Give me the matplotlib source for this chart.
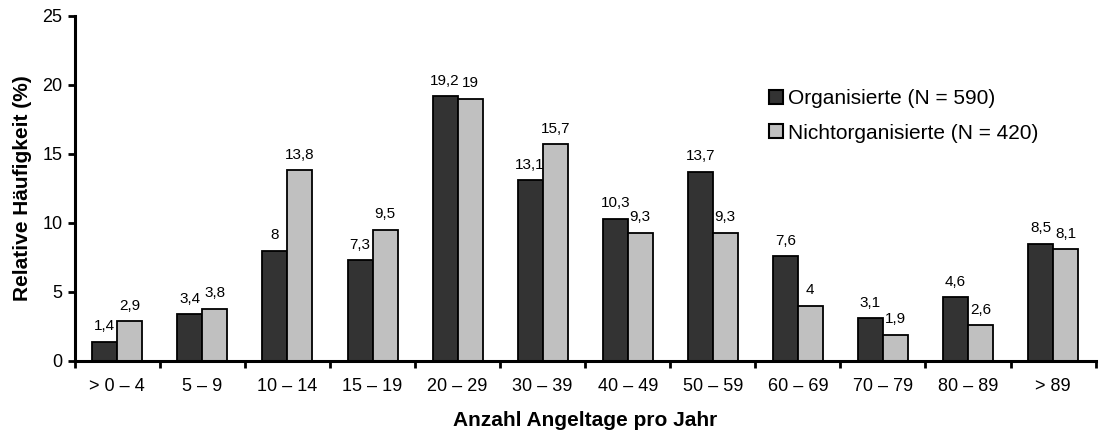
import matplotlib
matplotlib.use("Agg")
import matplotlib.pyplot as plt
import numpy as np

categories = ["> 0 – 4", "5 – 9", "10 – 14", "15 – 19", "20 – 29", "30 – 39",
              "40 – 49", "50 – 59", "60 – 69", "70 – 79", "80 – 89", "> 89"]
organisierte = [1.4, 3.4, 8, 7.3, 19.2, 13.1, 10.3, 13.7, 7.6, 3.1, 4.6, 8.5]
nichtorganisierte = [2.9, 3.8, 13.8, 9.5, 19, 15.7, 9.3, 9.3, 4, 1.9, 2.6, 8.1]
series_names = ["Organisierte (N = 590)", "Nichtorganisierte (N = 420)"]
y_ticks = [0, 5, 10, 15, 20, 25]

plt.rcParams['font.family'] = ['Liberation Sans', 'DejaVu Sans']

fig = plt.figure(figsize=(11, 4.32), dpi=100)
ax = fig.add_axes([0.068, 0.1644, 0.928, 0.799])

x = np.arange(len(categories))
w = 0.294
b1 = ax.bar(x - w/2, organisierte, w, color="#333333", edgecolor="black", linewidth=1.3,
            label=series_names[0])
b2 = ax.bar(x + w/2, nichtorganisierte, w, color="#c0c0c0", edgecolor="black", linewidth=1.3,
            label=series_names[1])

def fmt(v):
    return ("%g" % v).replace(".", ",")

for bars, vals in ((b1, organisierte), (b2, nichtorganisierte)):
    for rect, v in zip(bars, vals):
        ax.annotate(fmt(v), (rect.get_x() + rect.get_width()/2, v), xytext=(0, 6),
                    textcoords="offset points", ha="center", va="bottom", fontsize=11)

ax.set_xlim(-0.5, len(categories) - 0.5)
ax.set_ylim(0, 25)
ax.set_yticks(y_ticks)
ax.tick_params(axis="y", labelsize=13, width=2, length=5, pad=4, direction="out")
ax.set_xticks(x)
ax.set_xticklabels(categories, fontsize=13)
ax.tick_params(axis="x", length=0, pad=12)
ax.set_xticks(np.arange(-0.5, len(categories), 1), minor=True)
ax.tick_params(axis="x", which="minor", length=5, width=2)

for s in ["top", "right"]:
    ax.spines[s].set_visible(False)
for s in ["left", "bottom"]:
    ax.spines[s].set_linewidth(2.2)

ax.set_ylabel("Relative Häufigkeit (%)", fontsize=15, fontweight="bold")
ax.yaxis.set_label_coords(-0.042, 0.5)
ax.set_xlabel("Anzahl Angeltage pro Jahr", fontsize=15, fontweight="bold")
ax.xaxis.set_label_coords(0.5, -0.145)

leg = ax.legend(loc="upper left", bbox_to_anchor=(769/1100, 1 - 89/432),
                bbox_transform=fig.transFigure, frameon=False, fontsize=15,
                handlelength=0.67, handleheight=0.67, handletextpad=0.25,
                labelspacing=0.75, borderpad=0, borderaxespad=0)
for h in leg.legend_handles:
    h.set_linewidth(1.5)

fig.savefig("out.png", dpi=100)
